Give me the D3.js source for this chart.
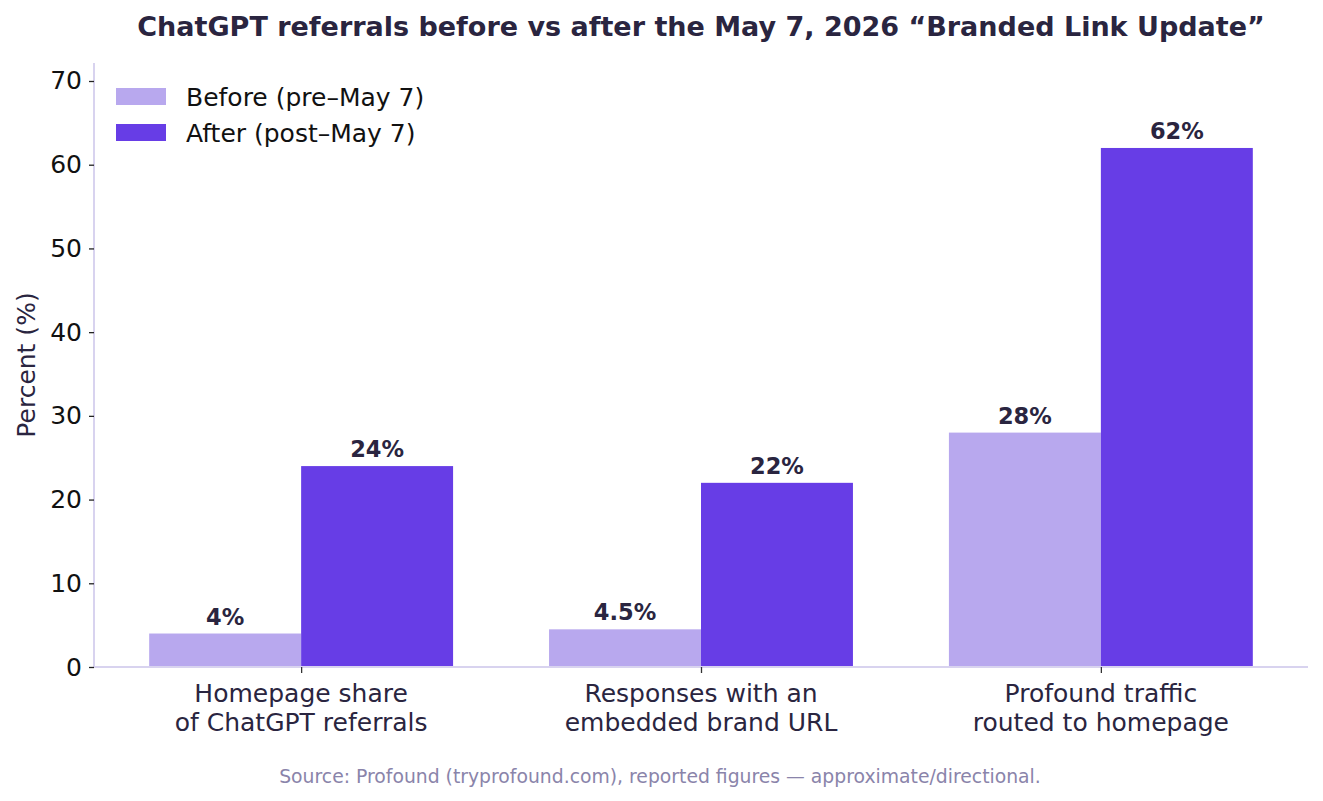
<!DOCTYPE html>
<html>
<head>
<meta charset="utf-8">
<script src="https://cdn.jsdelivr.net/npm/d3@7"></script>
<style>
  body { margin: 0; background: #fff; }
  text { font-family: "DejaVu Sans", sans-serif; }
</style>
</head>
<body>
<div id="chart"></div>
<script>
const categories = [
    ["Homepage share", "of ChatGPT referrals"],
    ["Responses with an", "embedded brand URL"],
    ["Profound traffic", "routed to homepage"]
];
const seriesNames = ["Before (pre\u2013May 7)", "After (post\u2013May 7)"];
const beforeValues = [4, 4.5, 28];
const afterValues = [24, 22, 62];
const valueLabels = [["4%", "4.5%", "28%"], ["24%", "22%", "62%"]];
const yTicks = [0, 10, 20, 30, 40, 50, 60, 70];

const colors = ["#b8a8ee", "#673de6"];
const W = 1323, H = 801;
const margin = { top: 63, right: 15, bottom: 134, left: 94 };
const width = W - margin.left - margin.right;
const height = H - margin.top - margin.bottom;

const svg = d3.select("#chart").append("svg")
    .attr("width", W)
    .attr("height", H);

const g = svg.append("g")
    .attr("transform", `translate(${margin.left},${margin.top})`);

const barW = 0.38;
const x = d3.scaleLinear().domain([-0.518, 2.518]).range([0, width]);
const y = d3.scaleLinear().domain([0, 72.15]).range([height, 0]);

const series = [beforeValues, afterValues];

series.forEach((vals, s) => {
    const off = s === 0 ? -barW : 0;
    g.selectAll(".bar" + s)
        .data(vals)
        .enter()
        .append("rect")
        .attr("x", (d, i) => x(i + off))
        .attr("y", d => y(d))
        .attr("width", x(barW) - x(0))
        .attr("height", d => height - y(d))
        .attr("fill", colors[s]);

    g.selectAll(".label" + s)
        .data(vals)
        .enter()
        .append("text")
        .attr("x", (d, i) => x(i + off + barW / 2))
        .attr("y", d => y(d) - 9)
        .attr("text-anchor", "middle")
        .style("font-size", "22.5px")
        .style("font-weight", "bold")
        .style("fill", "#2a2540")
        .text((d, i) => valueLabels[s][i]);
});

// y axis
const yAxis = g.append("g")
    .call(d3.axisLeft(y).tickValues(yTicks).tickSize(5).tickPadding(7));
yAxis.select(".domain").attr("stroke", "#d8d3ef").attr("stroke-width", 2)
    .attr("d", `M0,0V${height}`);
yAxis.selectAll(".tick line").attr("stroke", "#222").attr("stroke-width", 1.3);
yAxis.selectAll(".tick text")
    .style("font-size", "25px")
    .style("font-family", "DejaVu Sans")
    .style("fill", "#111");

// x axis
const xAxis = g.append("g")
    .attr("transform", `translate(0,${height})`)
    .call(d3.axisBottom(x).tickValues([0, 1, 2]).tickSize(6).tickFormat(""));
xAxis.select(".domain").attr("stroke", "#d8d3ef").attr("stroke-width", 2)
    .attr("d", `M0,0H${width}`);
xAxis.selectAll(".tick line").attr("stroke", "#333").attr("stroke-width", 1.3);

categories.forEach((lines, i) => {
    const t = g.append("text")
        .attr("x", x(i))
        .attr("y", height + 35)
        .attr("text-anchor", "middle")
        .style("font-size", "25px")
        .style("fill", "#2a2540");
    lines.forEach((ln, k) => {
        t.append("tspan").attr("x", x(i)).attr("dy", k === 0 ? 0 : 29).text(ln);
    });
});

// y label
svg.append("text")
    .attr("transform", `translate(35,${margin.top + height / 2}) rotate(-90)`)
    .attr("text-anchor", "middle")
    .style("font-size", "25px")
    .style("fill", "#2a2540")
    .text("Percent (%)");

// title
svg.append("text")
    .attr("x", 701)
    .attr("y", 36)
    .attr("text-anchor", "middle")
    .style("font-size", "27px")
    .style("font-weight", "bold")
    .style("fill", "#2a2540")
    .text("ChatGPT referrals before vs after the May 7, 2026 \u201cBranded Link Update\u201d");

// legend
const legend = svg.append("g").attr("transform", "translate(116,88)");
seriesNames.forEach((name, s) => {
    legend.append("rect")
        .attr("x", 0).attr("y", s * 36)
        .attr("width", 50).attr("height", 17)
        .attr("fill", colors[s]);
    legend.append("text")
        .attr("x", 70).attr("y", s * 36 + 18)
        .style("font-size", "25px")
        .style("fill", "#111")
        .text(name);
});

// source
svg.append("text")
    .attr("x", 660)
    .attr("y", 783)
    .attr("text-anchor", "middle")
    .style("font-size", "18.8px")
    .style("fill", "#8a84aa")
    .text("Source: Profound (tryprofound.com), reported figures \u2014 approximate/directional.");
</script>
</body>
</html>
